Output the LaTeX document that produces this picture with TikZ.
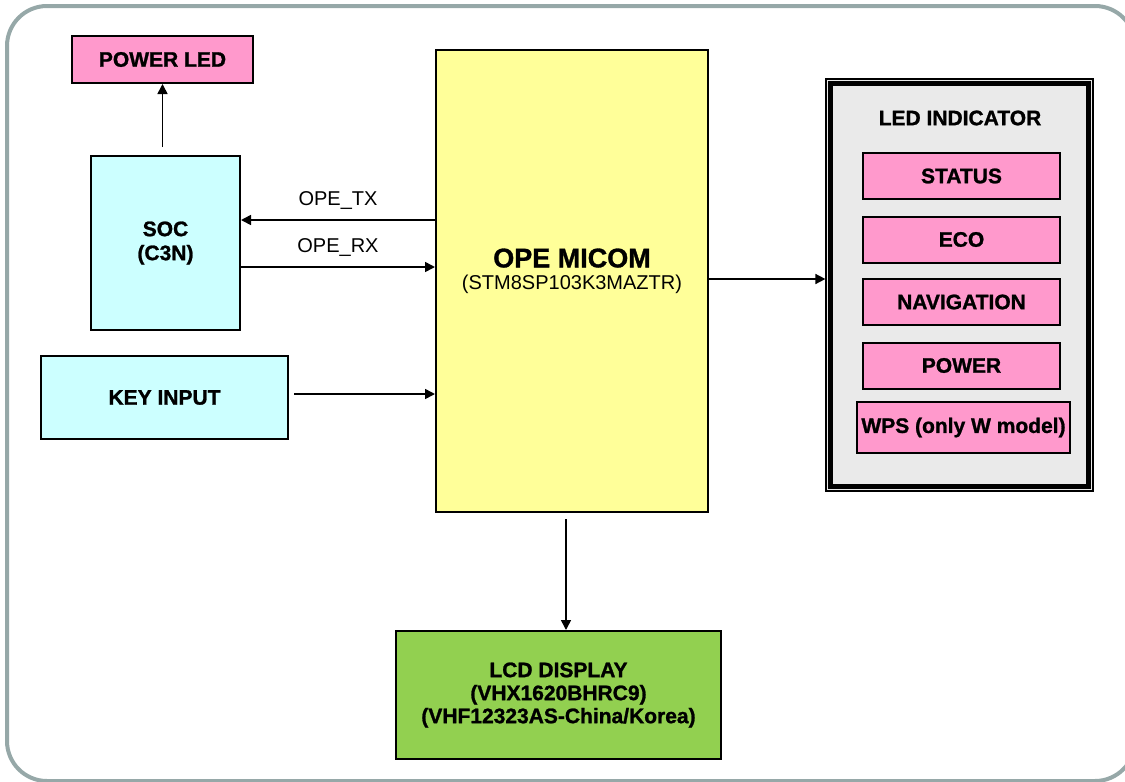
\documentclass[tikz,border=0pt]{standalone}
\usepackage{fontspec}
\setmainfont{Liberation Sans}[BoldFeatures={FakeBold=1.2}]
\usetikzlibrary{arrows.meta, positioning}

\definecolor{ledpink}{HTML}{FF99CC}
\definecolor{socblue}{HTML}{CCFFFF}
\definecolor{micomyellow}{HTML}{FFFF99}
\definecolor{lcdgreen}{HTML}{92D050}
\definecolor{indgray}{HTML}{EAEAEA}
\definecolor{framegray}{RGB}{150,168,168}

\begin{document}
\begin{tikzpicture}[
    x=0.5pt, y=-0.5pt,
    node distance=8pt,
    box/.style={draw, line width=1pt, align=center, inner sep=0pt, font=\fontsize{10.5}{12}\selectfont\bfseries},
    led/.style={box, fill=ledpink, minimum width=98.5pt, minimum height=23pt},
    sig/.style={font=\fontsize{10}{12}\selectfont, inner sep=0pt},
    arrow/.style={-{Triangle[length=5pt,width=5pt]}, line width=0.8pt},
    ]
\useasboundingbox (0,0) rectangle (1125,782);

% Cadre
\draw[framegray, line width=2pt, rounded corners=20pt] (7,6) rectangle (1135,781);

% Noeuds
\node[box, fill=ledpink, minimum width=90.5pt, minimum height=23.5pt] (pled) at (162.5,59.5) {POWER LED};
\node[box, fill=socblue, minimum width=74.5pt, minimum height=87pt] (soc) at (165.5,243) {SOC\\(C3N)};
\node[box, fill=socblue, minimum width=123.5pt, minimum height=41.5pt] (key) at (164.5,397.5) {KEY INPUT};
\node[box, fill=micomyellow, minimum width=136pt, minimum height=231pt] (micom) at (572,281) {};
\node[box, draw=none] (micomtext) at (572,271)
    {{\fontsize{13.5}{15}\selectfont OPE MICOM}\\[-1pt]{\fontsize{10}{12}\selectfont\mdseries (STM8SP103K3MAZTR)}};
\node[box, fill=lcdgreen, minimum width=162.5pt, minimum height=64pt] (lcd) at (558.5,695)
    {LCD DISPLAY\\[-0.5pt](VHX1620BHRC9)\\[-0.5pt](VHF12323AS-China/Korea)};

% LED indicator
\node[draw, line width=0.6pt, fill=indgray, minimum width=133.5pt, minimum height=206pt, inner sep=0pt] (ledbox) at (959.5,285) {};
\draw[line width=2.5pt] ([xshift=2.75pt,yshift=-2.75pt]ledbox.north west) rectangle ([xshift=-2.75pt,yshift=2.75pt]ledbox.south east);
\node[box, draw=none] (ledtitle) at (960,118) {LED INDICATOR};
\node[led] (status) at (961.5,176) {STATUS};
\node[led, below=7.75pt of status] (eco) {ECO};
\node[led, below=7.25pt of eco] (nav) {NAVIGATION};
\node[led, below=7.75pt of nav] (pwr) {POWER};
\node[led, minimum width=106.5pt, minimum height=25.5pt, below=5.75pt of pwr, xshift=1pt] (wps) {WPS (only W model)};

% Points
\coordinate (socup) at ([yshift=4pt]soc.north);
\coordinate (tx) at (0,220);
\coordinate (rx) at (0,267);
\coordinate (keyout) at (294,394);
\coordinate (ledin) at (0,279);
\coordinate (down) at (566,519);

% Fleches
\draw[arrow] (pled.south |- socup) -- (pled.south);
\draw[arrow] (micom.west |- tx) -- node[sig, midway, above=5pt] {OPE\_TX} (soc.east |- tx);
\draw[arrow] (soc.east |- rx) -- node[sig, midway, above=5pt] {OPE\_RX} (micom.west |- rx);
\draw[arrow] (keyout) -- (micom.west |- keyout);
\draw[arrow] (micom.east |- ledin) -- (ledbox.west |- ledin);
\draw[arrow] (down) -- (down |- lcd.north);

\end{tikzpicture}
\end{document}
